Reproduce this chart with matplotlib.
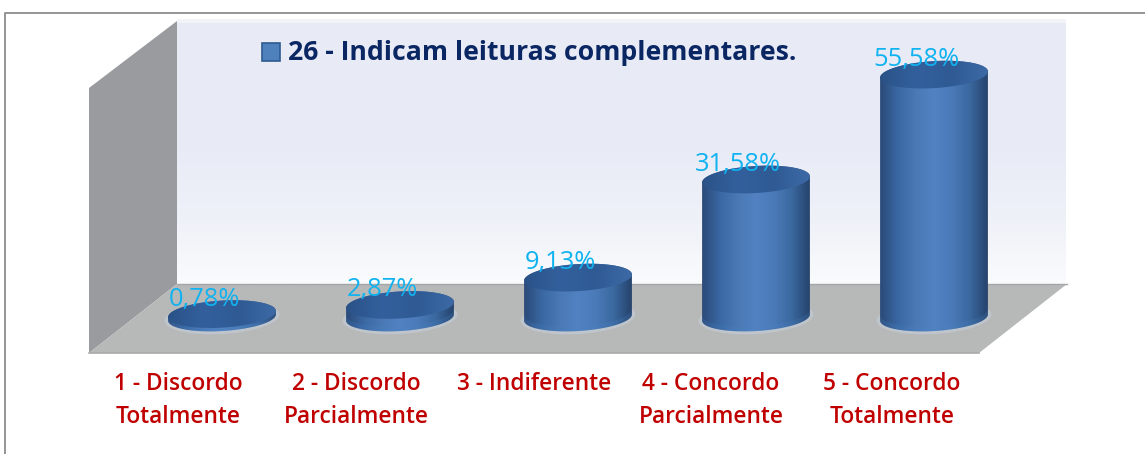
import numpy as np
import matplotlib
matplotlib.use("Agg")
import matplotlib.pyplot as plt
from matplotlib.patches import Polygon, Ellipse, Rectangle, PathPatch
from matplotlib.path import Path
from matplotlib.colors import LinearSegmentedColormap

# ---- data ----
categories = ["1 - Discordo\nTotalmente", "2 - Discordo\nParcialmente", "3 - Indiferente",
              "4 - Concordo\nParcialmente", "5 - Concordo\nTotalmente"]
values = [0.78, 2.87, 9.13, 31.58, 55.58]
value_labels = ["0,78%", "2,87%", "9,13%", "31,58%", "55,58%"]
series_name = "26 - Indicam leituras complementares."

W, H = 1145, 454
fig = plt.figure(figsize=(W / 100, H / 100), dpi=100, facecolor="white")
ax = fig.add_axes([0, 0, 1, 1])
ax.set_xlim(0, W)
ax.set_ylim(H, 0)
ax.axis("off")

FONT = ["Open Sans", "DejaVu Sans"]

# outer frame
ax.plot([4.5, 4.5, W], [H, 13, 13], color="#8c8c8c", lw=1.3, solid_capstyle="butt", zorder=1)

# back wall
wall = LinearSegmentedColormap.from_list("wall", ["#e8ebf6", "#e8ebf6", "#e9ecf6", "#eef1f8", "#fafbfd"])
im = ax.imshow(np.linspace(0, 1, 256)[:, None], extent=(177, 1066, 284, 20), cmap=wall,
               aspect="auto", zorder=2)
ax.add_patch(Rectangle((177, 19), 889, 4, color="#f2f3f6", lw=0, zorder=2.1))

# side wall and floor
ax.add_patch(Polygon([(89, 88), (177, 21), (177, 284), (89, 353)], closed=True,
                     fc="#999b9e", ec="none", zorder=3))
ax.add_patch(Polygon([(89, 353), (177, 284), (1067, 284), (979, 353)], closed=True,
                     fc="#b7b9b9", ec="none", zorder=3))
ax.plot([177, 1067], [284, 284], color="#a3a5a6", lw=1, zorder=3.1)
ax.plot([89, 979], [353, 353], color="#a9abab", lw=1.2, zorder=3.1)

# cylinders
centers = np.arange(len(values)) * 178 + 222
base_y = 317.5
px_per_pct = 4.37
half_w, ry, tilt = 54, 13.5, -3.5

body_cmap = LinearSegmentedColormap.from_list(
    "body", ["#2b4a78", "#3a68a3", "#4a79b6", "#5282c2", "#4a7ab8", "#3a689f", "#26436c"])
cap_cmap = LinearSegmentedColormap.from_list("cap", ["#2a5288", "#33609c", "#2f5a94", "#3d6aa6"])


def ell_pts(cx, cy, a, b, t0, t1, n=60):
    t = np.radians(np.linspace(t0, t1, n))
    x, y = a * np.cos(t), b * np.sin(t)
    r = np.radians(tilt)
    return np.c_[cx + x * np.cos(r) - y * np.sin(r), cy + x * np.sin(r) + y * np.cos(r)]


for cx, v, lab in zip(centers, values, value_labels):
    top_y = base_y - v * px_per_pct
    # faint glow around the foot of the cylinder
    ax.add_patch(Ellipse((cx, base_y), 2 * half_w + 7, 2 * ry + 6, angle=tilt,
                         fc="#c6d0dc", ec="none", alpha=0.55, zorder=4))
    # body, with a gradient clipped to its outline
    low = ell_pts(cx, base_y, half_w, ry, 0, 180)
    up = ell_pts(cx, top_y, half_w, ry, 180, 360)
    path = Path(np.r_[low, up, low[:1]])
    g = ax.imshow(np.linspace(0, 1, 256)[None, :],
                  extent=(cx - half_w, cx + half_w, base_y + ry + 5, top_y - ry - 5),
                  cmap=body_cmap, aspect="auto", zorder=5)
    g.set_clip_path(PathPatch(path, transform=ax.transData))
    # lighter band along the bottom edge
    ax.add_patch(Polygon(np.r_[low, ell_pts(cx, base_y - 5, half_w, ry, 180, 0)], closed=True,
                         fc="#4c86c6", ec="none", alpha=0.2, zorder=5.2))
    # top cap
    cap = ell_pts(cx, top_y, half_w, ry, 0, 360)
    c = ax.imshow(np.linspace(0, 1, 256)[None, :],
                  extent=(cx - half_w, cx + half_w, top_y + ry + 5, top_y - ry - 5),
                  cmap=cap_cmap, aspect="auto", zorder=6)
    c.set_clip_path(PathPatch(Path(np.r_[cap, cap[:1]]), transform=ax.transData))
    ax.text(cx - 18, top_y - 15, lab, color="#10b2f0", fontsize=18.4, family=FONT,
            ha="center", va="center", zorder=7)
ax.set_xlim(0, W)
ax.set_ylim(H, 0)

# category labels
label_x = [178, 356, 534, 711, 892]
for x, c in zip(label_x, categories):
    ax.text(x, 372, c, color="#c00000", fontsize=16.4, family=FONT, weight="semibold",
            ha="center", va="top", linespacing=1.49, zorder=7)

# legend
ax.add_patch(Rectangle((261.5, 42.5), 18, 18, fc="#4f81bd", ec="#2f5a92", lw=1.2, zorder=7))
ax.text(288, 53, series_name, color="#0b2763", fontsize=19.2, family=FONT, weight="bold",
        ha="left", va="center", zorder=7)

fig.savefig("out.png", dpi=100, facecolor="white")
